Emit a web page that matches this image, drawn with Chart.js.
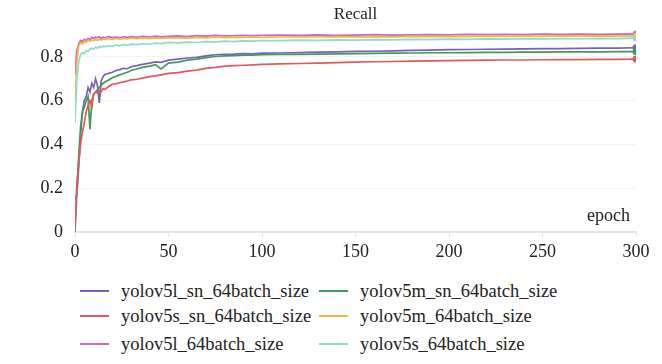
<!DOCTYPE html>
<html>
<head>
<meta charset="utf-8">
<script src="https://cdn.jsdelivr.net/npm/chart.js@4"></script>
<style>
  body { margin: 0; background: #fff; }
  #wrap { position: relative; width: 662px; height: 364px; }
  #box { position: absolute; left: 0; top: 0; width: 662px; height: 268px; }
  #legend { position: absolute; left: 0; top: 278px; width: 662px; font-family: "Liberation Serif", serif; font-size: 18.5px; color: #222; }
  .item { position: absolute; height: 26px; line-height: 26px; white-space: nowrap; }
  .item span.sw { position: absolute; top: 12px; width: 29px; height: 2px; }
  .item span.tx { position: absolute; left: 41px; top: 0; }
</style>
</head>
<body>
<div id="wrap">
  <div id="box"><canvas id="myChart"></canvas></div>
  <div id="legend"></div>
</div>
<script>
let epochs = [0,1,2,3,4,5,6,7,8,9,10,11,12,13,14,15,16,18,20,22,24,26,28,30,33,36,40,43,46,50,
  55,60,65,70,75,80,85,90,95,100,110,120,130,140,150,160,170,180,190,200,210,220,230,240,250,260,270,280,290,300];

let l_sn = [0.15,0.17,0.30,0.45,0.55,0.60,0.62,0.66,0.64,0.68,0.66,0.70,0.67,0.59,0.69,0.71,0.72,0.725,0.73,0.738,0.742,0.748,0.746,0.755,0.76,0.766,0.772,0.777,0.775,0.785,
  0.79,0.795,0.798,0.805,0.81,0.812,0.813,0.815,0.814,0.817,0.818,0.82,0.822,0.823,0.825,0.826,0.828,0.83,0.831,0.833,0.834,0.835,0.836,0.837,0.838,0.838,0.839,0.84,0.84,0.842];
let m_sn = [0.0,0.18,0.35,0.48,0.55,0.57,0.60,0.62,0.47,0.60,0.63,0.64,0.65,0.66,0.67,0.68,0.685,0.695,0.705,0.712,0.718,0.724,0.73,0.738,0.745,0.752,0.758,0.765,0.745,0.772,
  0.776,0.785,0.79,0.797,0.802,0.805,0.806,0.808,0.808,0.81,0.811,0.812,0.813,0.814,0.815,0.816,0.817,0.818,0.819,0.819,0.82,0.821,0.821,0.822,0.822,0.823,0.823,0.823,0.824,0.824];
let s_sn = [0.02,0.22,0.32,0.40,0.46,0.50,0.55,0.58,0.60,0.57,0.63,0.64,0.635,0.645,0.64,0.655,0.652,0.665,0.675,0.678,0.682,0.686,0.69,0.695,0.698,0.703,0.71,0.713,0.718,0.725,
  0.728,0.735,0.74,0.748,0.752,0.758,0.76,0.762,0.764,0.766,0.768,0.77,0.772,0.774,0.776,0.778,0.779,0.781,0.782,0.783,0.784,0.785,0.786,0.786,0.787,0.788,0.788,0.789,0.789,0.79];
let m_64 = [0.56,0.78,0.85,0.865,0.86,0.872,0.868,0.876,0.872,0.878,0.875,0.88,0.876,0.881,0.877,0.882,0.879,0.883,0.88,0.884,0.881,0.885,0.882,0.886,0.883,0.886,0.884,0.887,0.885,0.887,
  0.888,0.886,0.889,0.887,0.89,0.888,0.89,0.889,0.891,0.889,0.891,0.892,0.891,0.893,0.892,0.893,0.892,0.894,0.893,0.894,0.893,0.895,0.894,0.895,0.894,0.896,0.895,0.896,0.895,0.896];
let l_64 = [0.72,0.83,0.86,0.875,0.87,0.88,0.875,0.885,0.88,0.89,0.885,0.89,0.888,0.892,0.885,0.89,0.887,0.893,0.888,0.891,0.887,0.892,0.889,0.893,0.89,0.894,0.891,0.895,0.892,0.894,
  0.896,0.893,0.897,0.895,0.898,0.896,0.897,0.899,0.897,0.899,0.90,0.898,0.901,0.899,0.90,0.902,0.90,0.901,0.902,0.901,0.903,0.902,0.903,0.902,0.904,0.903,0.904,0.903,0.904,0.905];
let s_64 = [0.50,0.70,0.78,0.81,0.82,0.815,0.83,0.825,0.835,0.84,0.835,0.845,0.84,0.848,0.843,0.85,0.846,0.852,0.848,0.855,0.851,0.857,0.853,0.858,0.856,0.861,0.858,0.863,0.861,0.866,
  0.864,0.868,0.866,0.87,0.868,0.872,0.87,0.873,0.872,0.875,0.874,0.877,0.876,0.878,0.877,0.879,0.878,0.88,0.879,0.881,0.88,0.882,0.881,0.883,0.882,0.884,0.883,0.885,0.884,0.886];

let names = ['yolov5l_sn_64batch_size', 'yolov5m_sn_64batch_size', 'yolov5s_sn_64batch_size',
             'yolov5m_64batch_size', 'yolov5l_64batch_size', 'yolov5s_64batch_size'];
let series = [l_sn, m_sn, s_sn, m_64, l_64, s_64];
let colors = ['#7b5fb8', '#3f9b5c', '#e05a5c', '#f3b640', '#c26ac6', '#8edbc9'];

// draw order: bottom group first, top group last (magenta over orange)
let order = [2, 1, 0, 5, 3, 4];

let datasets = order.map(i => ({
  label: names[i],
  data: epochs.map((e, k) => ({ x: e, y: series[i][k] })),
  borderColor: colors[i],
  backgroundColor: colors[i],
  borderWidth: 1.7,
  tension: 0,
  pointRadius: c => c.dataIndex === epochs.length - 1 ? 3.5 : 0,
  pointBorderWidth: 0,
  pointHoverRadius: 0
}));

let labelsPlugin = {
  id: 'labels',
  afterDraw(chart) {
    let ctx = chart.ctx, a = chart.chartArea;
    ctx.save();
    ctx.fillStyle = '#222';
    ctx.font = '17px "Liberation Serif", serif';
    ctx.textAlign = 'center';
    ctx.textBaseline = 'middle';
    ctx.fillText('Recall', (a.left + a.right) / 2, 15);
    ctx.font = '18px "Liberation Serif", serif';
    ctx.textAlign = 'right';
    ctx.fillText('epoch', a.right - 6, 216);
    ctx.restore();
  }
};

let chart = new Chart(document.getElementById('myChart').getContext('2d'), {
  type: 'line',
  data: { datasets: datasets },
  plugins: [labelsPlugin],
  options: {
    responsive: true,
    maintainAspectRatio: false,
    animation: false,
    layout: { padding: { top: 30, right: 26, left: 0, bottom: 0 } },
    plugins: { legend: { display: false }, tooltip: { enabled: false } },
    scales: {
      x: {
        type: 'linear', min: 0, max: 300,
        afterFit: s => { s.height = 36; },
        ticks: { stepSize: 50, padding: 4, color: '#222', font: { family: 'Liberation Serif', size: 18 } },
        grid: { drawOnChartArea: false, tickLength: 5, color: '#e4e4e4' },
        border: { color: '#e4e4e4', width: 2 }
      },
      y: {
        min: 0, max: 0.923,
        afterFit: s => { s.width = 75; },
        ticks: { stepSize: 0.2, includeBounds: false, padding: 12, color: '#222', font: { family: 'Liberation Serif', size: 18 } },
        grid: { color: '#f3f3f3', drawTicks: false },
        border: { display: false }
      }
    }
  }
});

// legend: two columns, three rows, same order as the reference
let leg = document.getElementById('legend');
let cols = [80, 319], rowY = [0, 25, 53];
names.forEach((n, i) => {
  let d = document.createElement('div');
  d.className = 'item';
  d.style.left = cols[i % 2] + 'px';
  d.style.top = rowY[Math.floor(i / 2)] + 'px';
  d.innerHTML = '<span class="sw" style="background:' + colors[i] + '"></span><span class="tx">' + n + '</span>';
  leg.appendChild(d);
});
</script>
</body>
</html>
